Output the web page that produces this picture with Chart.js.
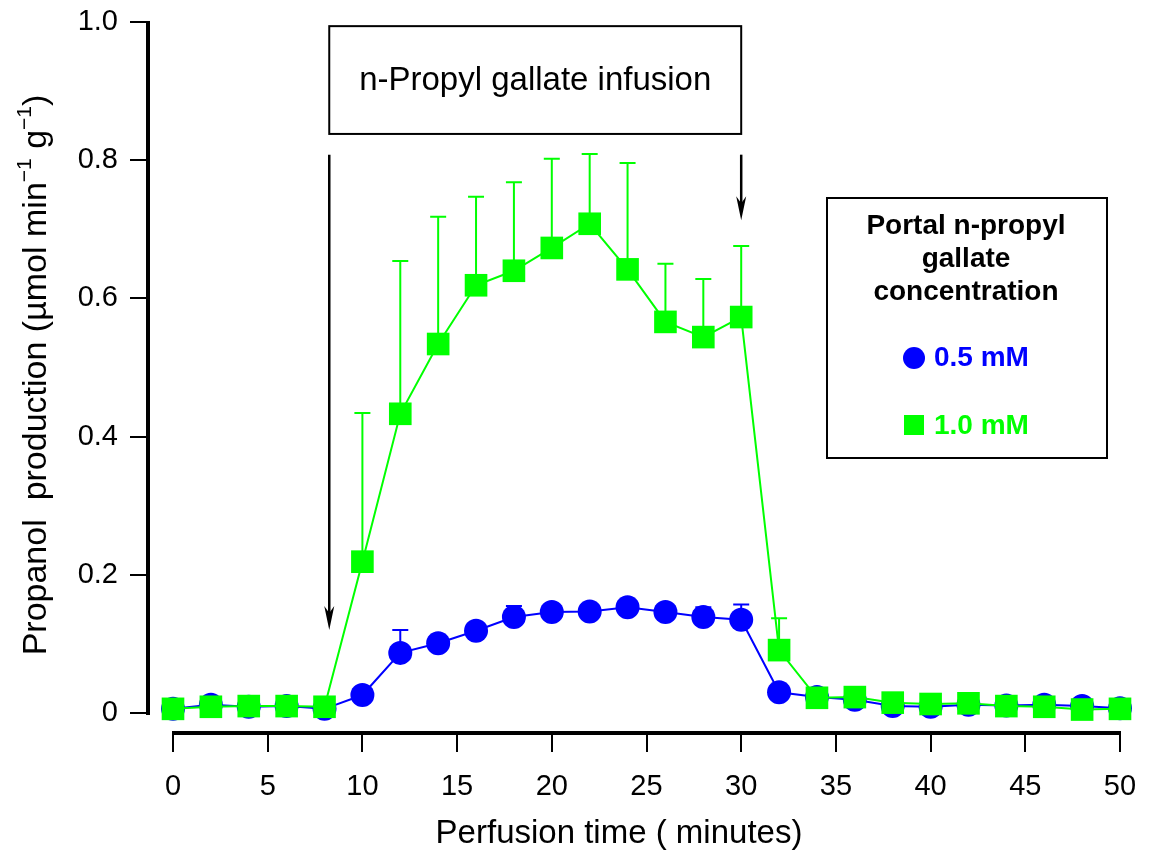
<!DOCTYPE html>
<html>
<head>
<meta charset="utf-8">
<script src="https://cdn.jsdelivr.net/npm/chart.js@4.4.0/dist/chart.umd.min.js"></script>
<style>
  html, body { margin: 0; padding: 0; background: #fff; }
  canvas { display: block; }
</style>
</head>
<body>
<canvas id="grafico" width="1149" height="851"></canvas>
<script>
// tiempos de perfusion (minutos)
const tiempos = [0, 2, 4, 6, 8, 10, 12, 14, 16, 18, 20, 22, 24, 26, 28, 30, 32, 34, 36, 38, 40, 42, 44, 46, 48, 50];

// 0.5 mM (azul)
const media05 = [0.006, 0.012, 0.009, 0.010, 0.006, 0.026, 0.087, 0.101, 0.119, 0.139, 0.146, 0.147, 0.153, 0.146, 0.139, 0.135,
                 0.030, 0.023, 0.019, 0.010, 0.009, 0.012, 0.011, 0.012, 0.010, 0.007];
const error05 = [null, null, null, null, null, null, 0.033, null, null, 0.016, null, null, null, null, 0.014, 0.022,
                 null, null, null, null, null, null, null, null, null, null];

// 1.0 mM (verde)
const media10 = [0.006, 0.009, 0.010, 0.010, 0.009, 0.219, 0.433, 0.534, 0.619, 0.640, 0.673, 0.708, 0.642, 0.566, 0.544, 0.573,
                 0.091, 0.022, 0.023, 0.015, 0.013, 0.014, 0.010, 0.009, 0.005, 0.006];
const error10 = [null, null, null, null, null, 0.215, 0.221, 0.184, 0.128, 0.128, 0.129, 0.101, 0.154, 0.084, 0.084, 0.103,
                 0.046, null, null, null, null, null, null, null, null, null];

const ticksX = [0, 5, 10, 15, 20, 25, 30, 35, 40, 45, 50];
const ticksY = [0, 0.2, 0.4, 0.6, 0.8, 1.0];

// periodo de infusion
const inicioInfusion = 8.25;
const finInfusion = 30;

const azul = '#0000ff';
const verde = '#00ff00';
const fuente = '"Liberation Sans", Arial, sans-serif';

function puntos(medias) {
  return tiempos.map((t, i) => ({ x: t, y: medias[i] }));
}

function barras(ctx, x, y, medias, errores, color) {
  ctx.save();
  ctx.strokeStyle = color;
  ctx.lineWidth = 2;
  tiempos.forEach((t, i) => {
    if (errores[i] == null) return;
    const px = x.getPixelForValue(t);
    const y0 = y.getPixelForValue(medias[i]);
    const y1 = y.getPixelForValue(medias[i] + errores[i]);
    ctx.beginPath();
    ctx.moveTo(px, y0);
    ctx.lineTo(px, y1);
    ctx.moveTo(px - 8, y1);
    ctx.lineTo(px + 8, y1);
    ctx.stroke();
  });
  ctx.restore();
}

function flecha(ctx, px, y0, y1) {
  ctx.strokeStyle = '#000';
  ctx.fillStyle = '#000';
  ctx.lineWidth = 2.5;
  ctx.beginPath();
  ctx.moveTo(px, y0);
  ctx.lineTo(px, y1 - 14);
  ctx.stroke();
  ctx.beginPath();
  ctx.moveTo(px, y1);
  ctx.lineTo(px - 5, y1 - 24);
  ctx.lineTo(px, y1 - 17);
  ctx.lineTo(px + 5, y1 - 24);
  ctx.closePath();
  ctx.fill();
}

const dibujo = {
  id: 'dibujo',
  beforeDatasetsDraw(chart) {
    const { ctx, scales: { x, y } } = chart;
    barras(ctx, x, y, media05, error05, azul);
    barras(ctx, x, y, media10, error10, verde);
  },
  afterDraw(chart) {
    const { ctx, chartArea, scales: { x, y } } = chart;
    ctx.save();

    // ejes
    ctx.strokeStyle = '#000';
    ctx.lineWidth = 4;
    ctx.beginPath();
    ctx.moveTo(chartArea.left + 1, y.getPixelForValue(1.0) - 1);
    ctx.lineTo(chartArea.left + 1, y.getPixelForValue(0) + 2);
    ctx.stroke();
    ctx.beginPath();
    ctx.moveTo(x.getPixelForValue(0) - 1, chartArea.bottom - 1);
    ctx.lineTo(x.getPixelForValue(50) + 1, chartArea.bottom - 1);
    ctx.stroke();

    // caja de infusion
    const bx0 = x.getPixelForValue(inicioInfusion);
    const bx1 = x.getPixelForValue(finInfusion);
    const by0 = y.getPixelForValue(0.994);
    const by1 = y.getPixelForValue(0.838);
    ctx.lineWidth = 2;
    ctx.strokeRect(bx0, by0, bx1 - bx0, by1 - by0);
    ctx.fillStyle = '#000';
    ctx.font = '33px ' + fuente;
    ctx.textAlign = 'center';
    ctx.textBaseline = 'alphabetic';
    ctx.fillText('n-Propyl gallate infusion', (bx0 + bx1) / 2, (by0 + by1) / 2 + 10);

    flecha(ctx, bx0, y.getPixelForValue(0.808), y.getPixelForValue(0.120));
    flecha(ctx, bx1, y.getPixelForValue(0.808), y.getPixelForValue(0.713));

    // titulo eje x
    ctx.font = '33px ' + fuente;
    ctx.textAlign = 'center';
    ctx.fillText('Perfusion time ( minutes)', 619, 843);

    // titulo eje y con superindices
    ctx.save();
    ctx.translate(46, 375);
    ctx.rotate(-Math.PI / 2);
    const partes = [
      ['Propanol  production (\u00b5mol min', false],
      ['\u22121', true],
      [' g', false],
      ['\u22121', true],
      [')', false]
    ];
    let total = 0;
    partes.forEach(([txt, sup]) => {
      ctx.font = (sup ? '21px ' : '34px ') + fuente;
      total += ctx.measureText(txt).width;
    });
    let cx = -total / 2;
    ctx.textAlign = 'left';
    partes.forEach(([txt, sup]) => {
      ctx.font = (sup ? '21px ' : '34px ') + fuente;
      ctx.fillText(txt, cx, sup ? -15 : 0);
      cx += ctx.measureText(txt).width;
    });
    ctx.restore();

    // leyenda
    ctx.lineWidth = 2;
    ctx.strokeStyle = '#000';
    ctx.strokeRect(827, 198, 280, 260);
    ctx.font = 'bold 28px ' + fuente;
    ctx.textAlign = 'center';
    ctx.textBaseline = 'middle';
    ctx.fillStyle = '#000';
    ctx.fillText('Portal n-propyl', 966, 226);
    ctx.fillText('gallate', 966, 259);
    ctx.fillText('concentration', 966, 292);

    ctx.textAlign = 'left';
    ctx.fillStyle = azul;
    ctx.beginPath();
    ctx.arc(914, 358, 11, 0, Math.PI * 2);
    ctx.fill();
    ctx.fillText('0.5 mM', 934, 358);

    ctx.fillStyle = verde;
    ctx.fillRect(904, 415, 20, 20);
    ctx.fillText('1.0 mM', 934, 426);

    ctx.restore();
  }
};

const grafico = new Chart(document.getElementById('grafico').getContext('2d'), {
  type: 'line',
  data: {
    datasets: [
      {
        label: '1.0 mM',
        data: puntos(media10),
        borderColor: verde,
        backgroundColor: verde,
        borderWidth: 2,
        pointStyle: 'rect',
        pointRadius: 16,
        pointBorderWidth: 0,
        clip: false,
        order: 0
      },
      {
        label: '0.5 mM',
        data: puntos(media05),
        borderColor: azul,
        backgroundColor: azul,
        borderWidth: 2,
        pointStyle: 'circle',
        pointRadius: 12,
        pointBorderWidth: 0,
        clip: false,
        order: 1
      }
    ]
  },
  options: {
    responsive: false,
    animation: false,
    layout: { padding: { left: 0, right: 29, top: 22, bottom: 0 } },
    plugins: { legend: { display: false }, tooltip: { enabled: false } },
    scales: {
      x: {
        type: 'linear',
        min: -1.3728,
        max: 50,
        afterBuildTicks: (s) => { s.ticks = ticksX.map(v => ({ value: v })); },
        afterFit: (s) => { s.height = 117; s.paddingLeft = 0; s.paddingRight = 0; },
        grid: { display: true, drawOnChartArea: false, drawTicks: true, tickLength: 18, color: '#000', lineWidth: 2 },
        border: { display: false },
        ticks: { color: '#000', font: { family: fuente, size: 29 }, padding: 18, maxRotation: 0 }
      },
      y: {
        type: 'linear',
        min: -0.0304,
        max: 1.0,
        afterBuildTicks: (s) => { s.ticks = ticksY.map(v => ({ value: v })); },
        afterFit: (s) => { s.width = 147; s.paddingTop = 0; s.paddingBottom = 0; },
        grid: { display: true, drawOnChartArea: false, drawTicks: true, tickLength: 17, color: '#000', lineWidth: 2 },
        border: { display: false },
        ticks: {
          color: '#000',
          font: { family: fuente, size: 29 },
          padding: 12,
          callback: (v) => (v === 0 ? '0' : v.toFixed(1))
        }
      }
    }
  },
  plugins: [dibujo]
});
</script>
</body>
</html>
